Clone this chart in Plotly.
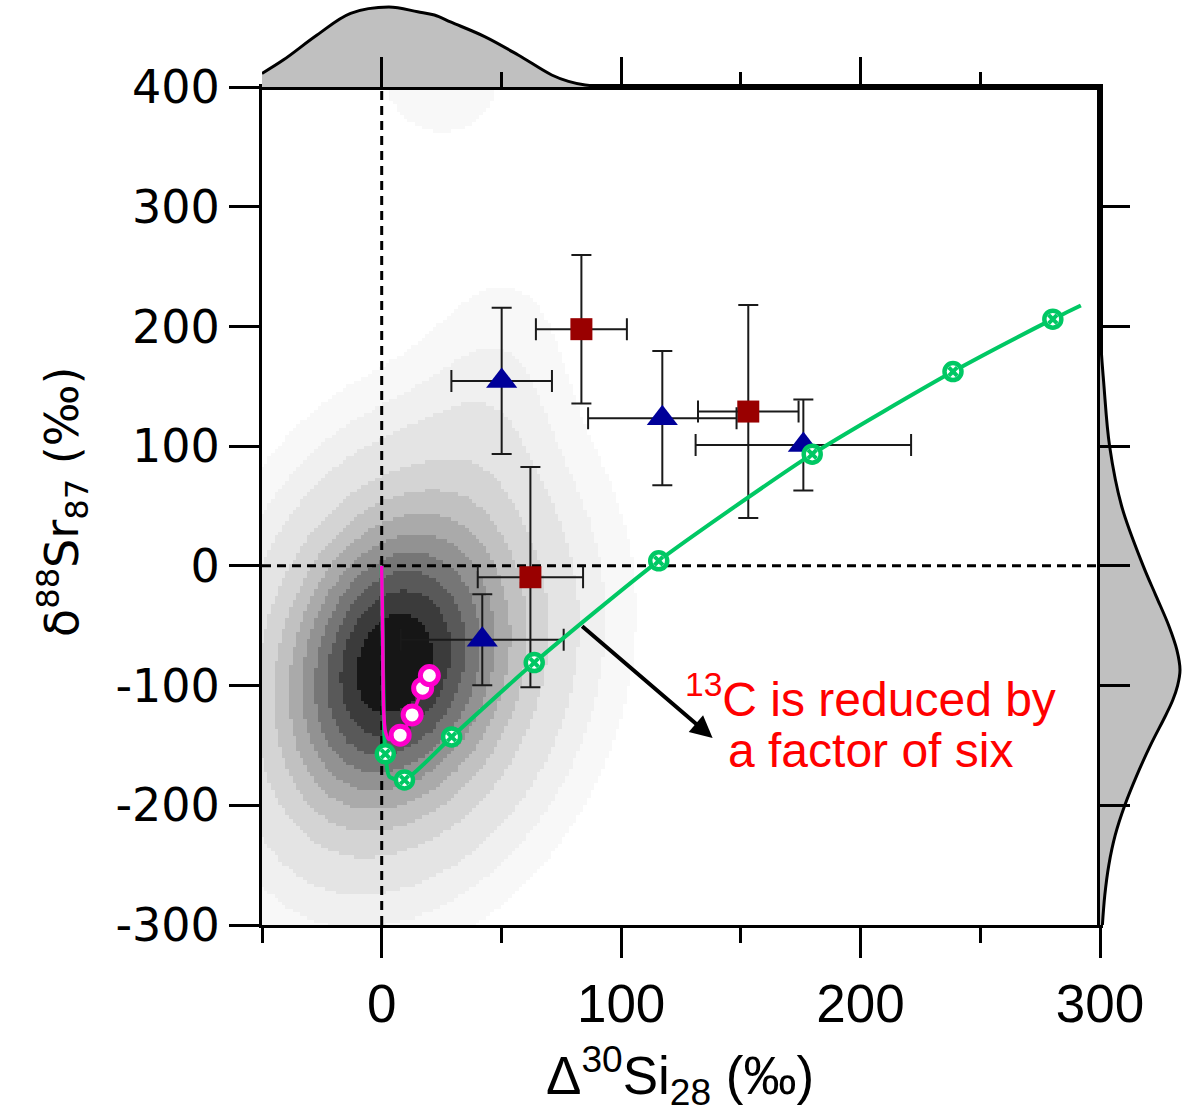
import numpy as np
import plotly.graph_objects as go

W, H = 1197, 1114
X_RANGE = [-50, 300]
Y_RANGE = [-300, 400]
ZERO = 0

# Axis ticks
x_ticks = [0, 100, 200, 300]
y_ticks = [-300, -200, -100, 0, 100, 200, 300, 400]
y_ticklabels = ['-300', '-200', '-100', '0', '100', '200', '300', '400']

# Presolar grain measurements (triangles and squares) with 1-sigma errors
tri_x = [50.1, 117.2, 176.1, 42.0]
tri_y = [154.5, 123.4, 101.0, -61.8]
tri_ex = [21, 31, 45, 34]
tri_ey = [61, 56, 38, 38]

sq_x = [83.4, 153.1, 62.1]
sq_y = [197.7, 128.9, -9.5]
sq_ex = [19, 21, 22]
sq_ey = [62, 89, 92]

# Model track with reduced 13C (green)
green_line_x = [0, 0.4, 0.8, 1.5, 3.2, 9.5, 29.2, 63.7, 115.7, 179.8, 238.6, 280.3, 292.0]
green_line_y = [0, -60, -120, -157, -176, -178.8, -142.9, -80.8, 4.2, 93.3, 162.3, 206.1, 217.5]
green_pts_x = [1.5, 9.5, 29.2, 63.7, 115.7, 179.8, 238.6, 280.3]
green_pts_y = [-157, -178.8, -142.9, -80.8, 4.2, 93.3, 162.3, 206.1]

# Standard model track (magenta)
mag_line_x = [0, 0.4, 0.8, 1.5, 3.0, 7.7, 12.7, 17.1, 19.9]
mag_line_y = [0, -60, -120, -138, -145, -141.4, -124.5, -102.2, -91.6]
mag_pts_x = [7.7, 12.7, 17.1, 19.9]
mag_pts_y = [-141.4, -124.5, -102.2, -91.6]

# Mainstream grain density
# core: centre, left/right x widths, y width, shear of x with y
core_c = [4, -82]
core_sx = [31, 36]
core_sy = 90
core_shear = 0.07
# extra components: centre, widths, correlation, weight
ext_cx = [42, 25]
ext_cy = [110, 410]
ext_sx = [20, 22]
ext_sy = [80, 45]
ext_rho = [0.3, 0.0]
ext_w = [0.06, 0.035]
kde_levels = [0.02, 0.05, 0.1, 0.2, 0.3, 0.4, 0.5, 0.6, 0.7, 0.8, 0.9]
kde_greys = ['#ffffff', '#f8f8f8', '#f0f0f0', '#e4e4e4', '#d4d4d4', '#c1c1c1',
             '#aaaaaa', '#929292', '#767676', '#595959', '#3b3b3b', '#161616']

# Marginal densities (relative)
top_x = [-50, -41, -27, -13, 3, 15, 22, 29, 43, 57, 71, 78, 85, 95, 130, 300]
top_d = [0.17, 0.34, 0.65, 0.92, 1.0, 0.94, 0.9, 0.81, 0.63, 0.40, 0.15, 0.07, 0.025, 0.005, 0.0, 0.0]
right_y = [400, 300, 200, 150, 100, 50, 0, -25, -50, -70, -87, -100, -112, -125, -150,
           -175, -200, -225, -250, -275, -300]
right_d = [0.0, 0.0, 0.0, 0.05, 0.12, 0.27, 0.54, 0.70, 0.86, 0.96, 1.0, 0.97, 0.91, 0.82, 0.63,
           0.46, 0.31, 0.19, 0.11, 0.06, 0.03]

# ---- density grid ----
gx = np.arange(X_RANGE[0], X_RANGE[1] + 1.5, 1.5)
gy = np.arange(Y_RANGE[0], Y_RANGE[1] + 3, 3.0)
GX, GY = np.meshgrid(gx, gy)
dx = GX - core_c[0] - core_shear * (GY - core_c[1])
a = dx / np.where(dx < 0, core_sx[0], core_sx[1])
b = (GY - core_c[1]) / core_sy
field = np.exp(-0.5 * (a * a + b * b))
for cx, cy, sx, sy, r, w in zip(ext_cx, ext_cy, ext_sx, ext_sy, ext_rho, ext_w):
    a = (GX - cx) / sx
    b = (GY - cy) / sy
    q = (a * a + b * b - 2 * r * a * b) / (1 - r * r)
    field += w * np.exp(-0.5 * q)
field /= field.max()
band = np.digitize(field, kde_levels) + 0.5
nb = len(kde_greys)
cscale = []
for k, c in enumerate(kde_greys):
    cscale.append([k / nb, c])
    cscale.append([(k + 1) / nb, c])

XD = 838 / 935
YD = 838 / 925

fig = go.Figure()
fig.add_trace(go.Heatmap(x=gx, y=gy, z=band, zmin=0, zmax=nb, colorscale=cscale,
                         showscale=False, hoverinfo='skip', xaxis='x', yaxis='y'))

dash_style = dict(color='black', width=3, dash='9px,6px')
fig.add_trace(go.Scatter(x=[ZERO, ZERO], y=Y_RANGE, mode='lines', line=dash_style, hoverinfo='skip'))
fig.add_trace(go.Scatter(x=X_RANGE, y=[ZERO, ZERO], mode='lines', line=dash_style, hoverinfo='skip'))

err_col = '#1a1a1a'
fig.add_trace(go.Scatter(
    x=sq_x, y=sq_y, mode='markers',
    marker=dict(symbol='square', size=22, color='#990000', line=dict(width=0)),
    error_x=dict(type='data', array=sq_ex, color=err_col, thickness=2, width=11),
    error_y=dict(type='data', array=sq_ey, color=err_col, thickness=2, width=10),
))
fig.add_trace(go.Scatter(
    x=tri_x, y=tri_y, mode='markers',
    marker=dict(symbol='triangle-up', size=27, color='#000099', line=dict(width=0)),
    error_x=dict(type='data', array=tri_ex, color=err_col, thickness=2, width=11),
    error_y=dict(type='data', array=tri_ey, color=err_col, thickness=2, width=10),
))

green = '#00c864'
fig.add_trace(go.Scatter(x=green_line_x, y=green_line_y, mode='lines',
                         line=dict(color=green, width=4, shape='spline', smoothing=0.6)))
fig.add_trace(go.Scatter(x=green_pts_x, y=green_pts_y, mode='markers',
                         marker=dict(symbol='circle', size=17, color='white',
                                     line=dict(color=green, width=4.5))))
fig.add_trace(go.Scatter(x=green_pts_x, y=green_pts_y, mode='markers',
                         marker=dict(symbol='x', size=10, color=green, line=dict(width=0))))

magenta = '#ff00cc'
fig.add_trace(go.Scatter(x=mag_line_x, y=mag_line_y, mode='lines',
                         line=dict(color=magenta, width=3.5, shape='spline', smoothing=0.6)))
fig.add_trace(go.Scatter(x=mag_pts_x, y=mag_pts_y, mode='markers',
                         marker=dict(symbol='circle', size=18, color='white',
                                     line=dict(color=magenta, width=5))))

# marginal densities
fig.add_trace(go.Scatter(x=top_x, y=top_d, mode='lines', fill='tozeroy',
                         fillcolor='#c0c0c0', line=dict(color='black', width=3, shape='spline'),
                         xaxis='x2', yaxis='y2', hoverinfo='skip'))
fig.add_trace(go.Scatter(x=right_d, y=right_y, mode='lines', fill='tozerox',
                         fillcolor='#c0c0c0', line=dict(color='black', width=3, shape='spline'),
                         xaxis='x3', yaxis='y3', hoverinfo='skip'))

axis_common = dict(showgrid=False, zeroline=False, showline=True, linecolor='black',
                   linewidth=3, tickcolor='black', tickwidth=2.5, automargin=False)
xfont = dict(family='Liberation Sans, Arial, sans-serif', size=53, color='black')
yfont = dict(family='DejaVu Sans, sans-serif', size=46, color='black')

fig.update_layout(
    width=W, height=H, margin=dict(l=262, r=0, t=0, b=189, pad=0, autoexpand=False),
    plot_bgcolor='white', paper_bgcolor='white', showlegend=False,
    xaxis=dict(domain=[0, XD], range=X_RANGE, anchor='y', mirror=True, ticks='outside',
               ticklen=30, tickvals=x_ticks, tickfont=xfont,
               minor=dict(ticks='outside', ticklen=15, tick0=0, dtick=50, tickwidth=2.5,
                          tickcolor='black', showgrid=False),
               **axis_common),
    yaxis=dict(domain=[0, YD], range=Y_RANGE, anchor='x', mirror=True, ticks='outside',
               ticklen=30, tickvals=y_ticks, ticktext=y_ticklabels, tickfont=yfont,
               **axis_common),
    xaxis2=dict(domain=[0, XD], range=X_RANGE, anchor='y2', ticks='inside', ticklen=30,
                tickvals=x_ticks, showticklabels=False,
                minor=dict(ticks='inside', ticklen=15, tick0=0, dtick=50, tickwidth=2.5,
                           tickcolor='black', showgrid=False),
                **axis_common),
    yaxis2=dict(domain=[YD, 1], range=[0, 87 / 80], anchor='x2', visible=False, automargin=False),
    xaxis3=dict(domain=[XD, 1], range=[0, 97 / 80], anchor='y3', visible=False, automargin=False),
    yaxis3=dict(domain=[0, YD], range=Y_RANGE, anchor='x3', side='left', ticks='inside',
                ticklen=30, tickvals=y_ticks, showticklabels=False, **axis_common),
)

red_font = dict(family='Liberation Sans, Arial, sans-serif', size=48, color='#ff0000')
fig.add_annotation(x=204, y=-109, xref='x', yref='y', text='<sup>13</sup>C is reduced by',
                   showarrow=False, font=red_font, xanchor='center', yanchor='middle')
fig.add_annotation(x=204, y=-154, xref='x', yref='y', text='a factor of six',
                   showarrow=False, font=red_font, xanchor='center', yanchor='middle')
fig.add_annotation(x=138.2, y=-143.7, ax=83.1, ay=-49.3, xref='x', yref='y',
                   axref='x', ayref='y', text='', showarrow=True, arrowhead=2,
                   arrowsize=1.1, arrowwidth=4, arrowcolor='black', standoff=0, startstandoff=0)

fig.add_annotation(x=(680 - 262) / 935, y=(925 - 1075) / 925, xref='paper', yref='paper',
                   text='Δ<sup>30</sup>Si<sub>28</sub> (‰)', showarrow=False,
                   font=dict(family='Liberation Sans, Arial, sans-serif', size=53, color='black'),
                   xanchor='center', yanchor='middle')
fig.add_annotation(x=(62 - 262) / 935, y=(925 - 502) / 925, xref='paper', yref='paper',
                   text='δ<sup>88</sup>Sr<sub>87</sub> (‰)', showarrow=False, textangle=-90,
                   font=dict(family='DejaVu Sans, sans-serif', size=46, color='black'),
                   xanchor='center', yanchor='middle')

fig.write_html('out.html')
